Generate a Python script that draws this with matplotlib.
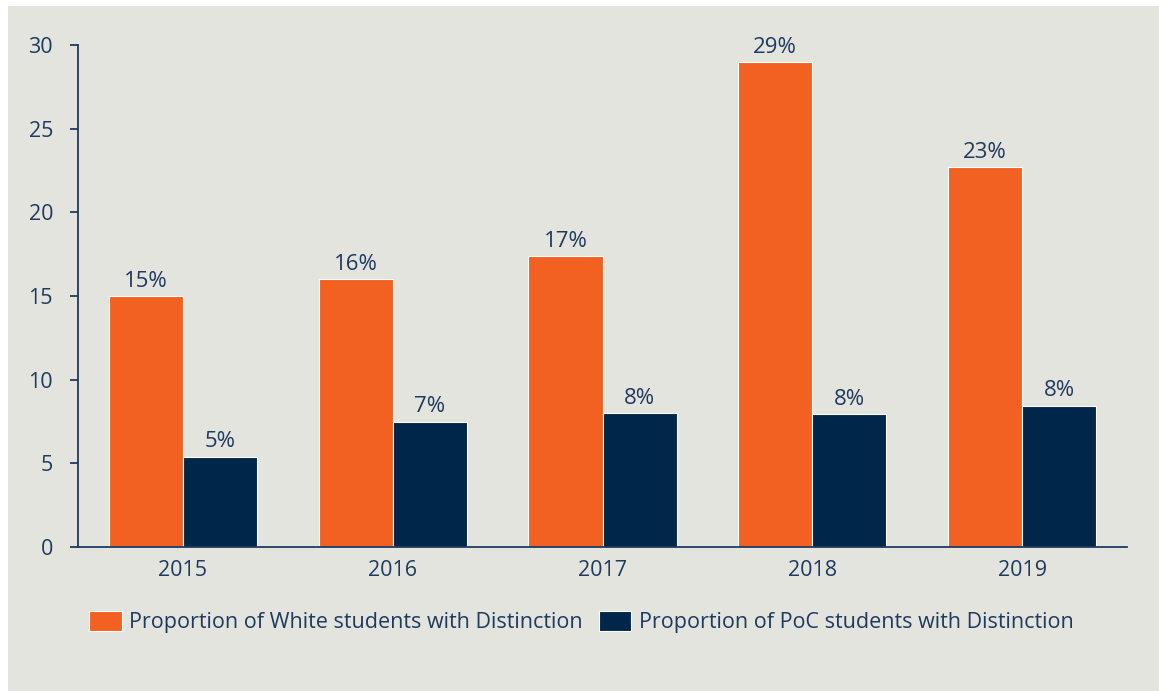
import numpy as np
import matplotlib
matplotlib.use("Agg")
from matplotlib import pyplot as plt
from matplotlib.patches import Rectangle

# data
years = ["2015", "2016", "2017", "2018", "2019"]
white_vals = [15.0, 16.0, 17.4, 29.0, 22.7]
poc_vals = [5.4, 7.5, 8.0, 7.95, 8.45]
white_labels = ["15%", "16%", "17%", "29%", "23%"]
poc_labels = ["5%", "7%", "8%", "8%", "8%"]
series_names = ["Proportion of White students with Distinction",
                "Proportion of PoC students with Distinction"]

orange = "#F26122"
navy = "#002649"
txt = "#1F3A5F"
bg = "#E4E4DF"

plt.rcParams['font.family'] = ['Open Sans', 'DejaVu Sans']

fig = plt.figure(figsize=(11.59, 6.91), dpi=100, facecolor="white")
# grey panel with a thin white margin top and left
fig.patches.append(Rectangle((8 / 1159, 0), 1, 1 - 6 / 691, transform=fig.transFigure,
                             facecolor=bg, edgecolor="none", zorder=-10))

ax = fig.add_axes([78 / 1159, 1 - 547 / 691, (1127 - 78) / 1159, (547 - 45) / 691])
ax.set_facecolor("none")

x = np.arange(len(years))
w = 0.353
b1 = ax.bar(x - w / 2, white_vals, w, color=orange, edgecolor="white", linewidth=0.8,
            label=series_names[0])
b2 = ax.bar(x + w / 2, poc_vals, w, color=navy, edgecolor="white", linewidth=0.8,
            label=series_names[1])

for bars, labs in [(b1, white_labels), (b2, poc_labels)]:
    for r, lab in zip(bars, labs):
        ax.annotate(lab, (r.get_x() + r.get_width() / 2, r.get_height()),
                    xytext=(0, 3), textcoords="offset points", ha="center", va="bottom",
                    fontsize=16, color=txt)

ax.set_xlim(-0.5, len(years) - 0.5)
ax.set_ylim(0, 30)
ax.set_yticks([0, 5, 10, 15, 20, 25, 30])
ax.set_xticks(x)
ax.set_xticklabels(years)

for s in ["top", "right"]:
    ax.spines[s].set_visible(False)
for s in ["left", "bottom"]:
    ax.spines[s].set_color(txt)
    ax.spines[s].set_linewidth(1.3)

ax.tick_params(axis="y", colors=txt, labelsize=15.5, length=6, width=1.3, pad=12)
ax.tick_params(axis="x", colors=txt, labelsize=15.5, length=0, pad=9)

ax.legend(loc="upper center", bbox_to_anchor=(0.48, -0.11), ncol=2, frameon=False,
          fontsize=15.5, labelcolor=txt, handlelength=1.5, handleheight=1.1,
          handletextpad=0.35, columnspacing=0.75, borderaxespad=0)

fig.savefig("out.png", dpi=100, facecolor=fig.get_facecolor())
